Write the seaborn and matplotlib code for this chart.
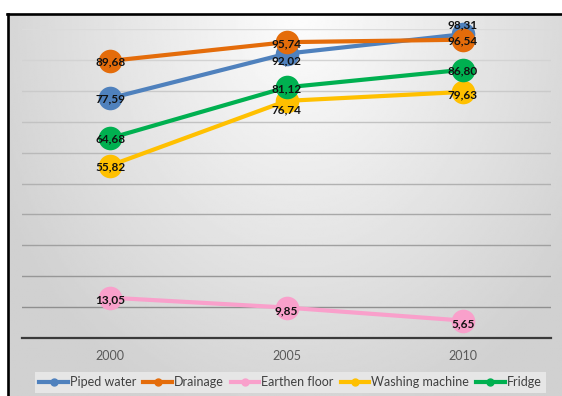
import numpy as np
import pandas as pd
import seaborn as sns
import matplotlib.pyplot as plt
from matplotlib.lines import Line2D

# --- data -------------------------------------------------------------
years = ["2000", "2005", "2010"]
series_names = ["Piped water", "Drainage", "Earthen floor", "Washing machine", "Fridge"]
piped_water = [77.59, 92.02, 98.31]
drainage = [89.68, 95.74, 96.54]
earthen_floor = [13.05, 9.85, 5.65]
washing_machine = [55.82, 76.74, 79.63]
fridge = [64.68, 81.12, 86.80]
y_ticks = list(range(0, 101, 10))

series_values = [piped_water, drainage, earthen_floor, washing_machine, fridge]
colors = ["#4F81BD", "#E46C0A", "#F9A0CB", "#FFC000", "#00B050"]

# vertical nudge of each value label (pixels, positive = downwards)
label_shift = {
    "Piped water": [1, 7, -9],
    "Drainage": [1, 2, 1],
    "Earthen floor": [2, 3, 3],
    "Washing machine": [1, 9, 3],
    "Fridge": [1, 2, 1],
}

rows = []
for name, vals in zip(series_names, series_values):
    for i, v in enumerate(vals):
        rows.append({"series": name, "x": i, "value": v})
df = pd.DataFrame(rows)

# --- figure -----------------------------------------------------------
W, H = 562, 396
fig = plt.figure(figsize=(W / 100, H / 100), dpi=100)
fig.patch.set_facecolor("white")

# soft radial grey backdrop of the chart area
left_px, top_px = 8, 14
bg = fig.add_axes([left_px / W, 0, 1 - left_px / W, 1 - top_px / H])
xs = np.linspace(left_px, W, 300)
ys = np.linspace(top_px, H, 220)
X, Y = np.meshgrid(xs, ys)
d = np.sqrt(((X - 300) / 330) ** 2 + ((Y - top_px) / 420) ** 2)
shade = 0.99 - (0.99 - 0.82) * np.clip(d, 0, 1)
bg.imshow(shade, cmap="gray", vmin=0, vmax=1, aspect="auto",
          extent=(0, 1, 0, 1), interpolation="bilinear")
bg.set_axis_off()

# black frame edges (left and top)
fig.add_artist(Line2D([left_px / W, left_px / W], [0, 1 - top_px / H],
                      transform=fig.transFigure, color="black", lw=1.9))
fig.add_artist(Line2D([left_px / W - 0.002, 1], [1 - top_px / H, 1 - top_px / H],
                      transform=fig.transFigure, color="black", lw=1.9))

ax = fig.add_axes([22 / W, 1 - 338 / H, (551 - 22) / W, (338 - 29) / H])
ax.set_facecolor("none")

sns.lineplot(data=df, x="x", y="value", hue="series", hue_order=series_names,
             palette=colors, marker="o", markersize=17, markeredgewidth=0,
             linewidth=3, legend=False, ax=ax, clip_on=False)

ax.set_xlim(-0.5, 2.5)
ax.set_ylim(0, 100)
ax.set_yticks(y_ticks)
ax.set_yticklabels([])
ax.set_xticks(range(len(years)))
ax.set_xticklabels(years, fontsize=9, color="#595959", family="Lato")
ax.tick_params(axis="both", length=0)
ax.tick_params(axis="x", pad=9)
ax.set_xlabel("")
ax.set_ylabel("")

for side in ["left", "right", "top"]:
    ax.spines[side].set_visible(False)
ax.spines["bottom"].set_color("#3a3a3a")
ax.spines["bottom"].set_linewidth(1.6)

# horizontal gridlines, darker towards the bottom
for t in y_ticks[1:]:
    g = 0.86 - (100 - t) / 90 * 0.30
    ax.axhline(t, color=(g, g, g), lw=1.0, zorder=0.5)

# value labels
for name, vals in zip(series_names, series_values):
    for i, v in enumerate(vals):
        ax.annotate(f"{v:.2f}".replace(".", ","), (i, v),
                    xytext=(0, -label_shift[name][i]), textcoords="offset pixels",
                    ha="center", va="center", fontsize=8.5, fontweight="bold",
                    family="Lato", color="#111111", zorder=10,
                    annotation_clip=False)

# legend
handles = [Line2D([0], [0], color=c, lw=3, marker="o", markersize=5)
           for c in colors]
leg = fig.legend(handles, series_names, loc="upper left",
                 bbox_to_anchor=(35 / W, 1 - 372 / H), ncol=5,
                 frameon=True, fancybox=False, framealpha=1,
                 handlelength=2.3, handletextpad=0.15, columnspacing=0.55,
                 borderpad=0.35, borderaxespad=0,
                 prop={"family": "Lato", "size": 9})
leg.get_frame().set_facecolor("#e6e6e6")
leg.get_frame().set_edgecolor("none")
for txt in leg.get_texts():
    txt.set_color("#404040")

fig.savefig("out.png", dpi=100)
